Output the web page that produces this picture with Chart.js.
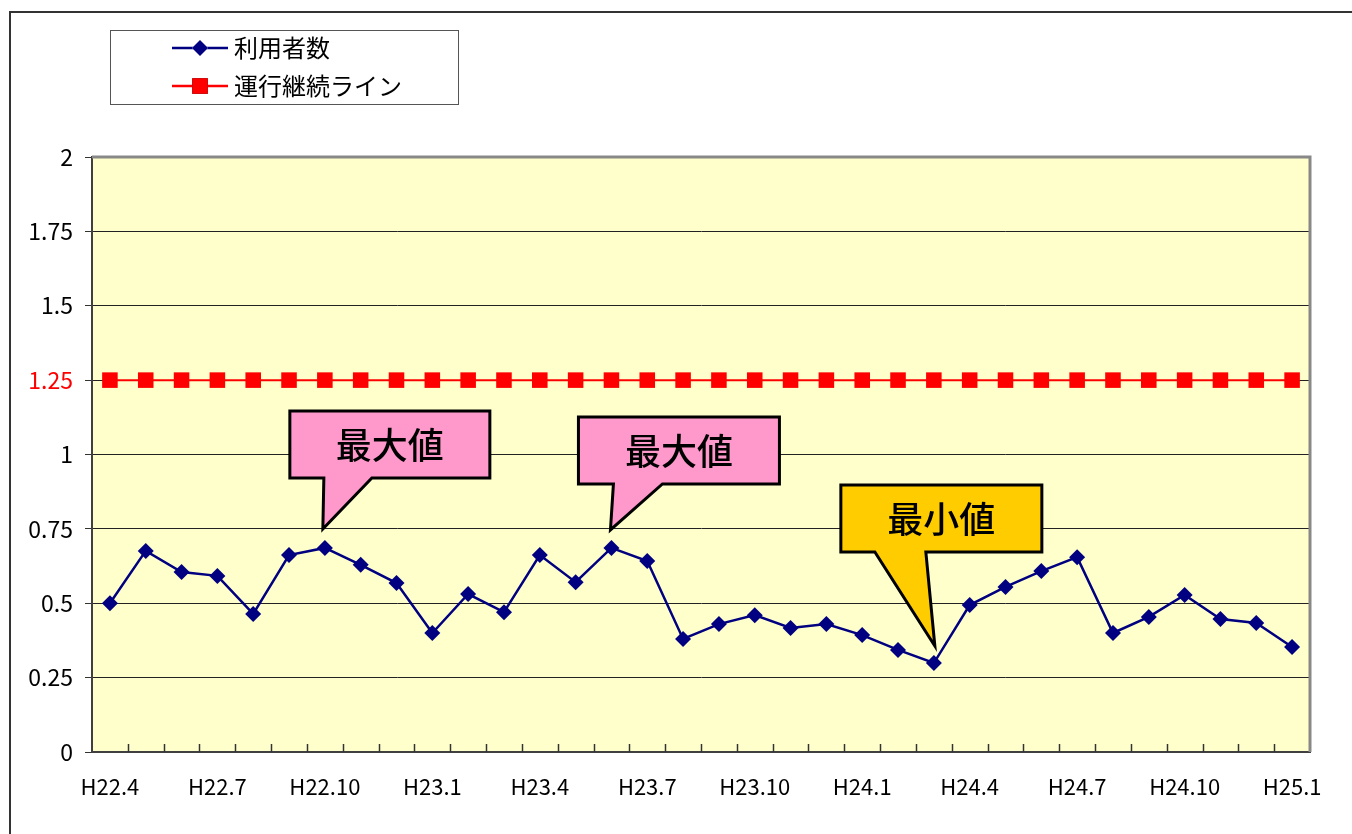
<!DOCTYPE html>
<html>
<head>
<meta charset="utf-8">
<script src="https://cdn.jsdelivr.net/npm/chart.js@4/dist/chart.umd.min.js"></script>
<style>
  body { margin: 0; background: #fff; }
</style>
</head>
<body>
<canvas id="chart" width="1352" height="834"></canvas>
<script>
// months H22.4 .. H25.1
const months = [
    'H22.4', 'H22.5', 'H22.6', 'H22.7', 'H22.8', 'H22.9', 'H22.10', 'H22.11', 'H22.12',
    'H23.1', 'H23.2', 'H23.3', 'H23.4', 'H23.5', 'H23.6', 'H23.7', 'H23.8', 'H23.9',
    'H23.10', 'H23.11', 'H23.12', 'H24.1', 'H24.2', 'H24.3', 'H24.4', 'H24.5', 'H24.6',
    'H24.7', 'H24.8', 'H24.9', 'H24.10', 'H24.11', 'H24.12', 'H25.1'
];

const users = [
    0.50, 0.676, 0.605, 0.592, 0.464, 0.662, 0.686, 0.629, 0.568,
    0.40, 0.531, 0.47, 0.662, 0.571, 0.686, 0.642, 0.38, 0.43,
    0.46, 0.417, 0.43, 0.393, 0.343, 0.299, 0.494, 0.555, 0.608,
    0.655, 0.40, 0.454, 0.528, 0.447, 0.434, 0.353
];

const continueLine = [
    1.25, 1.25, 1.25, 1.25, 1.25, 1.25, 1.25, 1.25, 1.25,
    1.25, 1.25, 1.25, 1.25, 1.25, 1.25, 1.25, 1.25, 1.25,
    1.25, 1.25, 1.25, 1.25, 1.25, 1.25, 1.25, 1.25, 1.25,
    1.25, 1.25, 1.25, 1.25, 1.25, 1.25, 1.25
];

const seriesNames = ['利用者数', '運行継続ライン'];
const calloutTexts = ['最大値', '最大値', '最小値'];
const calloutIndex = [6, 14, 23];

const FONT = '"Noto Sans CJK JP", "Noto Sans", sans-serif';

// callout shapes, relative to the pointed data point
const calloutStyle = [
    { fill: '#FF99CC', box: [-35, -137, 200, 67], base: [-1, 47], tip: [-2, -19] },
    { fill: '#FF99CC', box: [-33, -131, 201, 67], base: [2, 51], tip: [-1, -18] },
    { fill: '#FFCC00', box: [-93, -178, 201, 67], base: [-59, -8], tip: [1, -17] }
];

const decorations = {
    id: 'decorations',
    beforeDraw(chart) {
        const { ctx, chartArea: a } = chart;
        ctx.save();
        ctx.fillStyle = '#FFFFCC';
        ctx.fillRect(a.left, a.top, a.right - a.left, a.bottom - a.top);
        ctx.restore();
    },
    afterDatasetsDraw(chart) {
        const { ctx, chartArea: a } = chart;
        ctx.save();
        // plot border top / right
        ctx.strokeStyle = '#888';
        ctx.lineWidth = 3;
        ctx.beginPath();
        ctx.moveTo(a.left, a.top);
        ctx.lineTo(a.right, a.top);
        ctx.lineTo(a.right, a.bottom);
        ctx.stroke();

        // x tick marks pointing up
        ctx.strokeStyle = '#333';
        ctx.lineWidth = 1.5;
        const step = (a.right - a.left) / months.length;
        for (let i = 1; i < months.length; i++) {
            const x = Math.round(a.left + i * step) + 0.5;
            ctx.beginPath();
            ctx.moveTo(x, a.bottom);
            ctx.lineTo(x, a.bottom - 8);
            ctx.stroke();
        }

        // callouts
        const meta = chart.getDatasetMeta(0);
        calloutIndex.forEach((idx, k) => {
            const p = meta.data[idx];
            const s = calloutStyle[k];
            const bx = p.x + s.box[0], by = p.y + s.box[1];
            const bw = s.box[2], bh = s.box[3];
            ctx.beginPath();
            ctx.moveTo(bx, by);
            ctx.lineTo(bx + bw, by);
            ctx.lineTo(bx + bw, by + bh);
            ctx.lineTo(p.x + s.base[1], by + bh);
            ctx.lineTo(p.x + s.tip[0], p.y + s.tip[1]);
            ctx.lineTo(p.x + s.base[0], by + bh);
            ctx.lineTo(bx, by + bh);
            ctx.closePath();
            ctx.fillStyle = s.fill;
            ctx.fill();
            ctx.strokeStyle = '#000';
            ctx.lineWidth = 3;
            ctx.lineJoin = 'miter';
            ctx.stroke();
            ctx.fillStyle = '#000';
            ctx.font = '500 36px ' + FONT;
            ctx.textAlign = 'center';
            ctx.textBaseline = 'middle';
            ctx.fillText(calloutTexts[k], bx + bw / 2, by + bh / 2 + 1);
        });
        ctx.restore();
    },
    afterDraw(chart) {
        const { ctx } = chart;
        ctx.save();
        // outer frame
        ctx.strokeStyle = '#333';
        ctx.lineWidth = 2;
        ctx.strokeRect(10, 12, 1360, 840);

        // legend
        ctx.fillStyle = '#fff';
        ctx.fillRect(110, 30, 348, 74);
        ctx.strokeStyle = '#555';
        ctx.lineWidth = 1;
        ctx.strokeRect(110.5, 30.5, 348, 74);
        const rows = [48, 86];
        chart.data.datasets.forEach((ds, i) => {
            const y = rows[i];
            ctx.strokeStyle = ds.borderColor;
            ctx.lineWidth = 2.5;
            ctx.beginPath();
            ctx.moveTo(172, y);
            ctx.lineTo(228, y);
            ctx.stroke();
            Chart.helpers.drawPoint(ctx, {
                pointStyle: ds.pointStyle,
                radius: ds.pointRadius,
                borderWidth: 0
            }, 200, y);
            ctx.fillStyle = ds.pointBackgroundColor;
            ctx.fill();
            ctx.fillStyle = '#000';
            ctx.font = '24px ' + FONT;
            ctx.textAlign = 'left';
            ctx.textBaseline = 'middle';
            ctx.fillText(ds.label, 234, y);
        });
        ctx.restore();
    }
};

const ctx = document.getElementById('chart').getContext('2d');
const chart = new Chart(ctx, {
    type: 'line',
    data: {
        labels: months,
        datasets: [{
            label: seriesNames[0],
            data: users,
            borderColor: '#000080',
            borderWidth: 2.5,
            pointStyle: 'rectRot',
            pointRadius: 8,
            pointBackgroundColor: '#000080',
            pointBorderWidth: 0,
            tension: 0
        }, {
            label: seriesNames[1],
            data: continueLine,
            borderColor: '#FF0000',
            borderWidth: 2,
            pointStyle: 'rect',
            pointRadius: 11,
            pointBackgroundColor: '#FF0000',
            pointBorderWidth: 0,
            tension: 0
        }]
    },
    options: {
        responsive: false,
        animation: false,
        layout: { padding: { left: 0, top: 157, right: 42, bottom: 0 } },
        plugins: {
            legend: { display: false },
            tooltip: { enabled: false }
        },
        scales: {
            x: {
                offset: true,
                afterFit(scale) { scale.height = 82; },
                grid: { display: false },
                border: { color: '#404040', width: 2 },
                ticks: {
                    autoSkip: false,
                    maxRotation: 0,
                    padding: 13,
                    color: '#000',
                    font: { family: FONT, size: 22 },
                    callback(v, i) { return i % 3 === 0 ? months[i] : ''; }
                }
            },
            y: {
                min: 0,
                max: 2,
                afterFit(scale) { scale.width = 92; },
                ticks: {
                    stepSize: 0.25,
                    padding: 12,
                    color: (c) => c.tick.value === 1.25 ? '#FF0000' : '#000',
                    font: { family: FONT, size: 23 },
                    callback: (v) => String(Number(v.toFixed(2)))
                },
                grid: {
                    color: '#222',
                    lineWidth: 1,
                    tickLength: 7,
                    tickColor: '#333'
                },
                border: { color: '#404040', width: 2 }
            }
        }
    },
    plugins: [decorations]
});
</script>
</body>
</html>
